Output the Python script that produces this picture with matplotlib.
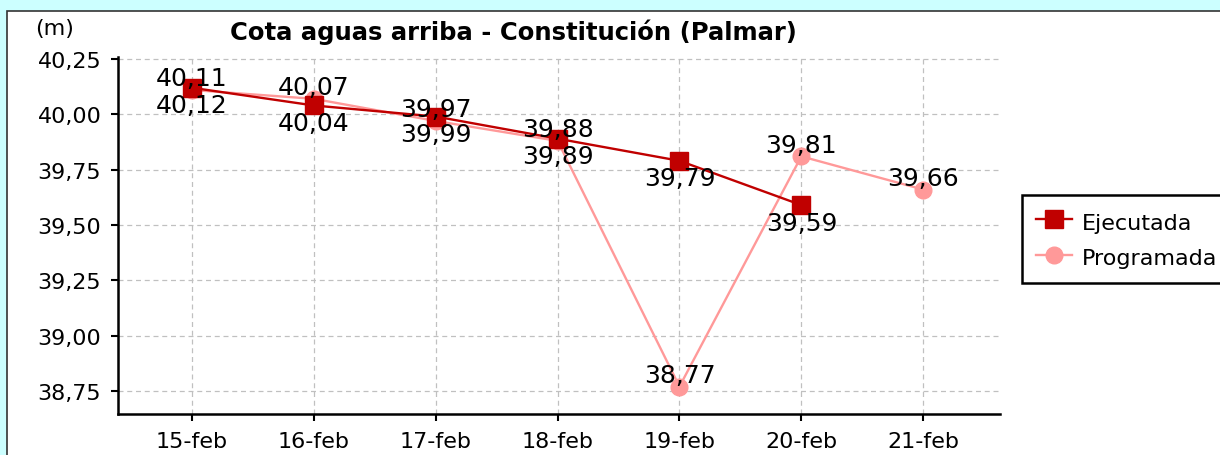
import matplotlib
matplotlib.use('Agg')
import matplotlib.pyplot as plt
from matplotlib.patches import Rectangle
from matplotlib.ticker import FuncFormatter

plt.rcParams['font.family'] = 'DejaVu Sans'

# datos
fechas = ['15-feb', '16-feb', '17-feb', '18-feb', '19-feb', '20-feb', '21-feb']
ejecutada = [40.12, 40.04, 39.99, 39.89, 39.79, 39.59]
programada = [40.11, 40.07, 39.97, 39.88, 38.77, 39.81, 39.66]
y_ticks = [38.75, 39.00, 39.25, 39.50, 39.75, 40.00, 40.25]

color_ej = '#c00000'
color_pr = '#ff9999'

W, H = 1220, 456
fig = plt.figure(figsize=(W / 100, H / 100), dpi=100, facecolor='#ccffff')

# panel blanco con borde
fig.patches.append(Rectangle((7 / W, -0.1), 1.2, 1 - 12 / H + 0.1,
                             transform=fig.transFigure, facecolor='white',
                             edgecolor='#333333', linewidth=1.2, zorder=-10))

ax = fig.add_axes([118 / W, (H - 415) / H, (1000 - 118) / W, (415 - 58) / H])
ax.set_facecolor('white')

x_ej = list(range(len(ejecutada)))
x_pr = list(range(len(programada)))

ax.plot(x_pr, programada, color=color_pr, linewidth=1.7, marker='o',
        markersize=12, label='Programada', zorder=3)
ax.plot(x_ej, ejecutada, color=color_ej, linewidth=1.7, marker='s',
        markersize=12.5, label='Ejecutada', zorder=4)

def fmt(v):
    return f'{v:.2f}'.replace('.', ',')

for x, v in zip(x_pr, programada):
    ax.annotate(fmt(v), (x, v), xytext=(0, 3.3), textcoords='offset points',
                ha='center', va='baseline', fontsize=18, zorder=5)
for x, v in zip(x_ej, ejecutada):
    ax.annotate(fmt(v), (x, v), xytext=(0, -4), textcoords='offset points',
                ha='center', va='top', fontsize=18, zorder=5)

ax.set_xlim(-0.607, 6.63)
ax.set_ylim(38.646, 40.259)
ax.set_xticks(x_pr)
ax.set_xticklabels(fechas)
ax.set_yticks(y_ticks)
ax.yaxis.set_major_formatter(FuncFormatter(lambda v, p: fmt(v)))
ax.tick_params(axis='both', labelsize=16, length=5, width=1.5, direction='out',
               color='black', pad=7)
ax.grid(True, color='#c0c0c0', linestyle=(0, (4, 3)), linewidth=0.9, zorder=0)
ax.set_axisbelow(True)
for s in ['top', 'right']:
    ax.spines[s].set_visible(False)
for s in ['left', 'bottom']:
    ax.spines[s].set_linewidth(1.8)

fig.text(513 / W, 1 - 32 / H, 'Cota aguas arriba - Constitución (Palmar)',
         ha='center', va='center', fontsize=17.5, fontweight='bold')
fig.text(35 / W, 1 - 29 / H, '(m)', ha='left', va='center', fontsize=16)

handles, labels = ax.get_legend_handles_labels()
leg = fig.legend(handles[::-1], labels[::-1], loc='upper left',
                 bbox_to_anchor=(1022 / W, 1 - 196 / H), fontsize=16,
                 frameon=True, fancybox=False, edgecolor='black',
                 framealpha=1, borderpad=0.63, handlelength=1.62,
                 handleheight=1.3, handletextpad=0.45, labelspacing=0.52,
                 borderaxespad=0)
leg.get_frame().set_linewidth(1.8)

fig.savefig('out.png', dpi=100, facecolor=fig.get_facecolor())
